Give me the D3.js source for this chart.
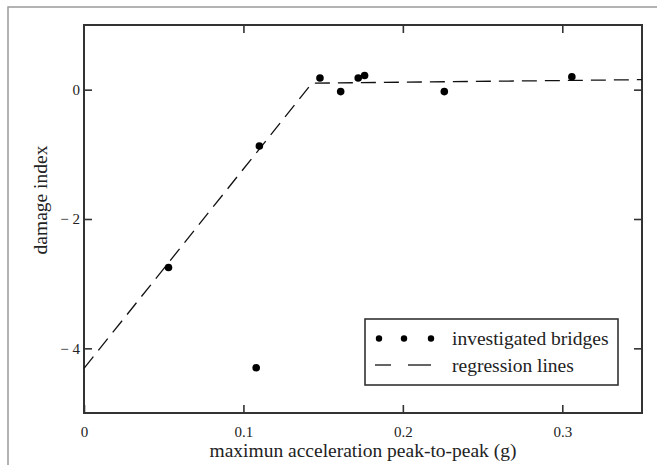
<!DOCTYPE html>
<html>
<head>
<meta charset="utf-8">
<script src="https://cdn.jsdelivr.net/npm/d3@7"></script>
<style>
  body { margin: 0; background: #fff; }
  svg text { font-family: "Liberation Serif", "Times New Roman", serif; fill: #222; }
</style>
</head>
<body>
<svg id="chart" width="657" height="465"></svg>
<script>
    // measured bridges
    var accel = [0.053, 0.110, 0.108, 0.148, 0.161, 0.172, 0.176, 0.226, 0.306];
    var damage = [-2.75, -0.87, -4.30, 0.18, -0.03, 0.18, 0.22, -0.03, 0.20];

    // regression lines (two pieces joined at the break)
    var regX = [0, 0.143, 0.35];
    var regY = [-4.31, 0.10, 0.155];

    var xTicks = [0, 0.1, 0.2, 0.3];
    var yTicks = [0, -2, -4];

(function () {
    "use strict";

    var svg = d3.select('#chart');
    var pLeft = 84, pRight = 642, pTop = 25, pBottom = 413;

    var x = d3.scaleLinear().domain([0, 0.35]).range([pLeft, pRight]);
    var y = d3.scaleLinear().domain([-5, 1]).range([pBottom, pTop]);

    // grey outer frame
    svg.append('rect')
        .attr('x', 8).attr('y', 7)
        .attr('width', 700).attr('height', 500)
        .attr('fill', 'none')
        .attr('stroke', '#9a9a9a')
        .attr('stroke-width', 1.5);

    var fmtY = function (d) { return d < 0 ? '\u2212 ' + Math.abs(d) : String(d); };

    var styleAxis = function ($g) {
        $g.attr('font-size', 15).attr('font-family', null);
        $g.select('.domain').remove();
        $g.selectAll('line').attr('stroke', '#333').attr('stroke-width', 1.6);
        $g.selectAll('text').attr('fill', '#222');
    };

    svg.append('g')
        .attr('transform', 'translate(0,' + pBottom + ')')
        .call(d3.axisBottom(x).tickValues(xTicks).tickSize(-8).tickPadding(13).tickFormat(d3.format('')))
        .call(styleAxis);
    svg.append('g')
        .attr('transform', 'translate(0,' + pTop + ')')
        .call(d3.axisTop(x).tickValues(xTicks.slice(1)).tickSize(-8).tickFormat(''))
        .call(styleAxis);
    svg.append('g')
        .attr('transform', 'translate(' + pLeft + ',0)')
        .call(d3.axisLeft(y).tickValues(yTicks).tickSize(-8).tickPadding(4).tickFormat(fmtY))
        .call(styleAxis);
    svg.append('g')
        .attr('transform', 'translate(' + pRight + ',0)')
        .call(d3.axisRight(y).tickValues(yTicks).tickSize(-8).tickFormat(''))
        .call(styleAxis);

    // plot frame
    svg.append('rect')
        .attr('x', pLeft).attr('y', pTop)
        .attr('width', pRight - pLeft).attr('height', pBottom - pTop)
        .attr('fill', 'none')
        .attr('stroke', '#333')
        .attr('stroke-width', 2);

    var line = d3.line()
        .x(function (d) { return x(d[0]); })
        .y(function (d) { return y(d[1]); });

    svg.append('path')
        .datum(d3.zip(regX, regY))
        .attr('d', line)
        .attr('fill', 'none')
        .attr('stroke', '#111')
        .attr('stroke-width', 1.3)
        .attr('stroke-dasharray', '15,8');

    svg.append('g').selectAll('circle')
        .data(d3.zip(accel, damage))
        .enter().append('circle')
        .attr('cx', function (d) { return x(d[0]); })
        .attr('cy', function (d) { return y(d[1]); })
        .attr('r', 3.8)
        .attr('fill', '#000');

    // legend
    var $legend = svg.append('g');
    $legend.append('rect')
        .attr('x', 365).attr('y', 319)
        .attr('width', 253).attr('height', 66)
        .attr('fill', '#fff')
        .attr('stroke', '#333')
        .attr('stroke-width', 1.6);
    [379, 404, 431].forEach(function (cx) {
        $legend.append('circle').attr('cx', cx).attr('cy', 338.5).attr('r', 3.2).attr('fill', '#000');
    });
    [[375, 391], [408, 431]].forEach(function (seg) {
        $legend.append('line')
            .attr('x1', seg[0]).attr('x2', seg[1])
            .attr('y1', 365).attr('y2', 365)
            .attr('stroke', '#111').attr('stroke-width', 1.3);
    });
    $legend.append('text').attr('x', 452).attr('y', 345).attr('font-size', 19.5).text('investigated bridges');
    $legend.append('text').attr('x', 452).attr('y', 372).attr('font-size', 19.5).text('regression lines');

    // axis titles
    svg.append('text')
        .attr('x', (pLeft + pRight) / 2)
        .attr('y', 457)
        .attr('text-anchor', 'middle')
        .attr('font-size', 19.5)
        .text('maximun acceleration peak-to-peak (g)');
    svg.append('text')
        .attr('transform', 'translate(47,200) rotate(-90)')
        .attr('text-anchor', 'middle')
        .attr('font-size', 19.5)
        .text('damage index');
})();
</script>
</body>
</html>
